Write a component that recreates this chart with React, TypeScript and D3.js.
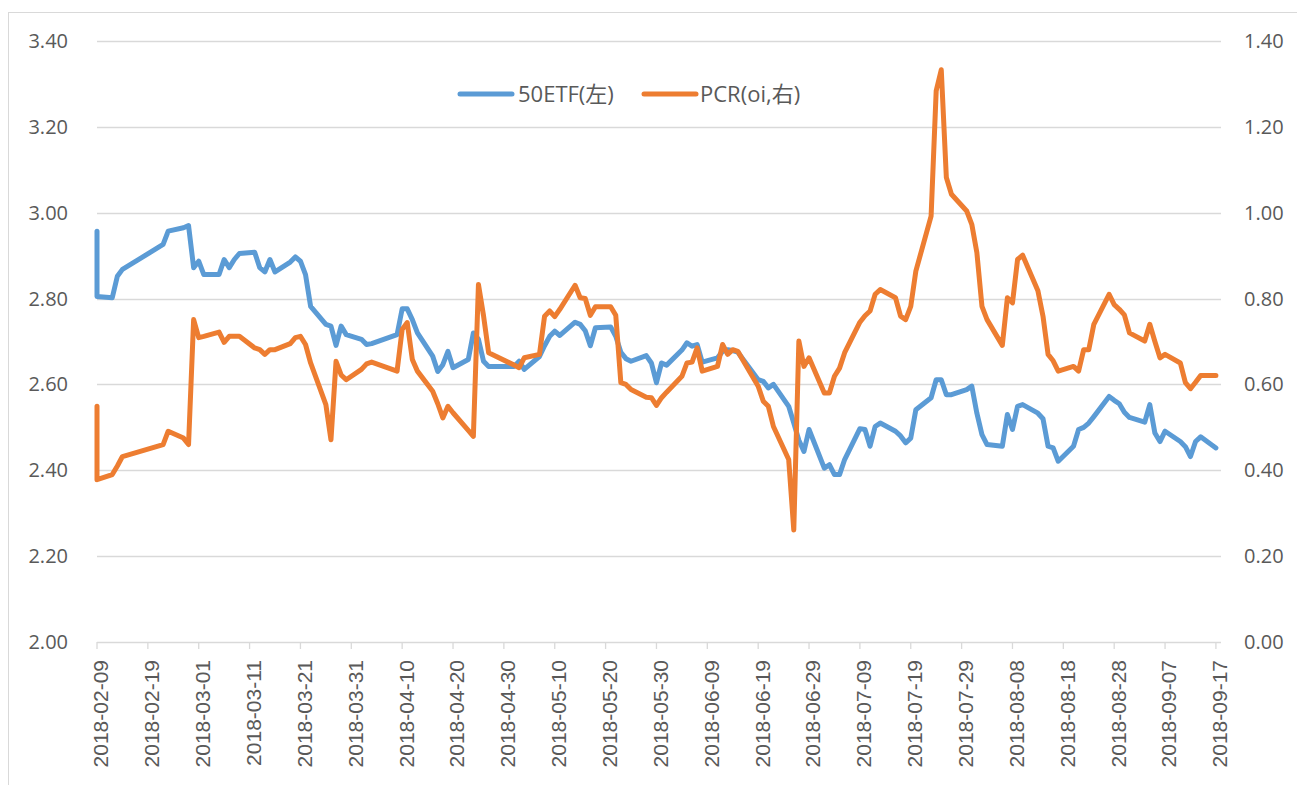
import React from 'react';
import * as d3 from 'd3';

// trading days (first day appears twice in the source series)
const dates = [
  '2018-02-09', '2018-02-09', '2018-02-12', '2018-02-13', '2018-02-14', '2018-02-22', '2018-02-23', '2018-02-26', '2018-02-27', '2018-02-28',
  '2018-03-01', '2018-03-02', '2018-03-05', '2018-03-06', '2018-03-07', '2018-03-08', '2018-03-09', '2018-03-12', '2018-03-13', '2018-03-14',
  '2018-03-15', '2018-03-16', '2018-03-19', '2018-03-20', '2018-03-21', '2018-03-22', '2018-03-23', '2018-03-26', '2018-03-27', '2018-03-28',
  '2018-03-29', '2018-03-30', '2018-04-02', '2018-04-03', '2018-04-04', '2018-04-09', '2018-04-10', '2018-04-11', '2018-04-12', '2018-04-13',
  '2018-04-16', '2018-04-17', '2018-04-18', '2018-04-19', '2018-04-20', '2018-04-23', '2018-04-24', '2018-04-25', '2018-04-26', '2018-04-27',
  '2018-05-02', '2018-05-03', '2018-05-04', '2018-05-07', '2018-05-08', '2018-05-09', '2018-05-10', '2018-05-11', '2018-05-14', '2018-05-15',
  '2018-05-16', '2018-05-17', '2018-05-18', '2018-05-21', '2018-05-22', '2018-05-23', '2018-05-24', '2018-05-25', '2018-05-28', '2018-05-29',
  '2018-05-30', '2018-05-31', '2018-06-01', '2018-06-04', '2018-06-05', '2018-06-06', '2018-06-07', '2018-06-08', '2018-06-11', '2018-06-12',
  '2018-06-13', '2018-06-14', '2018-06-15', '2018-06-19', '2018-06-20', '2018-06-21', '2018-06-22', '2018-06-25', '2018-06-26', '2018-06-27',
  '2018-06-28', '2018-06-29', '2018-07-02', '2018-07-03', '2018-07-04', '2018-07-05', '2018-07-06', '2018-07-09', '2018-07-10', '2018-07-11',
  '2018-07-12', '2018-07-13', '2018-07-16', '2018-07-17', '2018-07-18', '2018-07-19', '2018-07-20', '2018-07-23', '2018-07-24', '2018-07-25',
  '2018-07-26', '2018-07-27', '2018-07-30', '2018-07-31', '2018-08-01', '2018-08-02', '2018-08-03', '2018-08-06', '2018-08-07', '2018-08-08',
  '2018-08-09', '2018-08-10', '2018-08-13', '2018-08-14', '2018-08-15', '2018-08-16', '2018-08-17', '2018-08-20', '2018-08-21', '2018-08-22',
  '2018-08-23', '2018-08-24', '2018-08-27', '2018-08-28', '2018-08-29', '2018-08-30', '2018-08-31', '2018-09-03', '2018-09-04', '2018-09-05',
  '2018-09-06', '2018-09-07', '2018-09-10', '2018-09-11', '2018-09-12', '2018-09-13', '2018-09-14', '2018-09-17',
];

// 50ETF close (left axis)
const etf = [
  2.957, 2.805, 2.802, 2.852, 2.868, 2.926, 2.957, 2.965, 2.970, 2.872,
  2.887, 2.856, 2.856, 2.891, 2.872, 2.891, 2.905, 2.908, 2.872, 2.862,
  2.891, 2.862, 2.885, 2.897, 2.887, 2.856, 2.782, 2.740, 2.736, 2.691,
  2.736, 2.716, 2.705, 2.693, 2.695, 2.716, 2.776, 2.776, 2.751, 2.720,
  2.666, 2.630, 2.646, 2.677, 2.639, 2.658, 2.720, 2.705, 2.654, 2.642,
  2.642, 2.654, 2.635, 2.665, 2.690, 2.712, 2.724, 2.714, 2.745, 2.740,
  2.725, 2.690, 2.732, 2.734, 2.712, 2.675, 2.660, 2.654, 2.667, 2.650,
  2.604, 2.650, 2.645, 2.680, 2.697, 2.689, 2.693, 2.652, 2.662, 2.677,
  2.681, 2.679, 2.675, 2.611, 2.607, 2.592, 2.600, 2.549, 2.510, 2.470,
  2.444, 2.495, 2.405, 2.413, 2.390, 2.390, 2.425, 2.497, 2.495, 2.456,
  2.502, 2.510, 2.491, 2.480, 2.464, 2.475, 2.541, 2.569, 2.611, 2.611,
  2.576, 2.576, 2.588, 2.596, 2.533, 2.483, 2.460, 2.456, 2.530, 2.495,
  2.549, 2.553, 2.533, 2.520, 2.456, 2.452, 2.421, 2.456, 2.495, 2.500,
  2.510, 2.525, 2.572, 2.563, 2.555, 2.535, 2.523, 2.512, 2.553, 2.487,
  2.467, 2.491, 2.467, 2.455, 2.432, 2.467, 2.478, 2.452,
];

// PCR by open interest (right axis)
const pcr = [
  0.549, 0.378, 0.390, 0.410, 0.432, 0.460, 0.491, 0.475, 0.460, 0.751,
  0.709, 0.712, 0.722, 0.698, 0.712, 0.712, 0.712, 0.685, 0.681, 0.670,
  0.681, 0.681, 0.695, 0.709, 0.712, 0.693, 0.650, 0.553, 0.471, 0.654,
  0.622, 0.611, 0.635, 0.648, 0.652, 0.631, 0.728, 0.744, 0.658, 0.631,
  0.584, 0.555, 0.522, 0.549, 0.534, 0.493, 0.479, 0.833, 0.760, 0.674,
  0.645, 0.639, 0.662, 0.670, 0.759, 0.771, 0.758, 0.775, 0.831, 0.802,
  0.800, 0.761, 0.781, 0.781, 0.761, 0.604, 0.600, 0.588, 0.570, 0.569,
  0.551, 0.569, 0.582, 0.619, 0.650, 0.652, 0.685, 0.631, 0.642, 0.693,
  0.670, 0.681, 0.677, 0.596, 0.561, 0.549, 0.502, 0.425, 0.261, 0.701,
  0.642, 0.662, 0.580, 0.580, 0.619, 0.638, 0.674, 0.745, 0.760, 0.771,
  0.810, 0.821, 0.802, 0.759, 0.751, 0.782, 0.864, 0.992, 1.284, 1.333,
  1.082, 1.043, 1.004, 0.973, 0.907, 0.782, 0.751, 0.691, 0.802, 0.790,
  0.891, 0.901, 0.818, 0.759, 0.670, 0.655, 0.631, 0.642, 0.631, 0.681,
  0.681, 0.740, 0.810, 0.786, 0.775, 0.762, 0.720, 0.701, 0.740, 0.700,
  0.662, 0.670, 0.650, 0.604, 0.590, 0.605, 0.621, 0.621,
];

const leftTicks = [2.0, 2.2, 2.4, 2.6, 2.8, 3.0, 3.2, 3.4];
const rightTicks = [0.0, 0.2, 0.4, 0.6, 0.8, 1.0, 1.2, 1.4];
const xTicks = [
  '2018-02-09', '2018-02-19', '2018-03-01', '2018-03-11', '2018-03-21', '2018-03-31', '2018-04-10', '2018-04-20',
  '2018-04-30', '2018-05-10', '2018-05-20', '2018-05-30', '2018-06-09', '2018-06-19', '2018-06-29', '2018-07-09',
  '2018-07-19', '2018-07-29', '2018-08-08', '2018-08-18', '2018-08-28', '2018-09-07', '2018-09-17',
];
const seriesNames = ['50ETF(左)', 'PCR(oi,右)'];

const BLUE = '#5B9BD5';
const ORANGE = '#ED7D31';
const GRID = '#d9d9d9';
const TEXT = '#595959';

const parse = d3.timeParse('%Y-%m-%d');

export default function App() {
  const W = 1297;
  const H = 785;
  const left = 97;
  const right = 1221;
  const top = 41;
  const bottom = 642;

  const x = d3.scaleTime()
    .domain([parse('2018-02-09'), parse('2018-09-18')])
    .range([left, right]);
  const yL = d3.scaleLinear().domain([2.0, 3.4]).range([bottom, top]);
  const yR = d3.scaleLinear().domain([0, 1.4]).range([bottom, top]);

  const rows = dates.map((d, i) => ({ t: parse(d), etf: etf[i], pcr: pcr[i] }));

  const etfLine = d3.line().x(d => x(d.t)).y(d => yL(d.etf));
  const pcrLine = d3.line().x(d => x(d.t)).y(d => yR(d.pcr));

  const labelFont = '"Open Sans", "Noto Sans CJK SC", sans-serif';

  return (
    <div style={{ position: 'absolute', left: 0, top: 0 }}>
      <svg width={W} height={H} style={{ display: 'block', background: '#fff' }}>
        <rect x={8.5} y={12.5} width={1400} height={900} fill="#fff" stroke={GRID} strokeWidth={1} />

        {/* gridlines */}
        {leftTicks.slice(1).map(v => (
          <line key={v} x1={left} x2={right} y1={Math.round(yL(v)) + 0.5} y2={Math.round(yL(v)) + 0.5}
            stroke={GRID} strokeWidth={1.3} />
        ))}

        {/* x axis */}
        <line x1={left} x2={right} y1={bottom + 0.5} y2={bottom + 0.5} stroke={GRID} strokeWidth={1.3} />
        {xTicks.map(s => {
          const tx = x(parse(s));
          return (
            <g key={s}>
              <line x1={tx} x2={tx} y1={bottom} y2={bottom + 7} stroke={GRID} strokeWidth={1.3} />
              <text transform={`translate(${tx + 4},${660}) rotate(-90)`} textAnchor="end" dy="0.35em"
                fontFamily='"Liberation Sans", Arial, sans-serif' fontSize={21} fill={TEXT}>{s}</text>
            </g>
          );
        })}

        {/* y tick labels */}
        {leftTicks.map(v => (
          <text key={'l' + v} x={68} y={yL(v)} dy="0.35em" textAnchor="end"
            fontFamily={labelFont} fontSize={20} fill={TEXT}>{v.toFixed(2)}</text>
        ))}
        {rightTicks.map(v => (
          <text key={'r' + v} x={1244} y={yR(v)} dy="0.35em" textAnchor="start"
            fontFamily={labelFont} fontSize={20} fill={TEXT}>{v.toFixed(2)}</text>
        ))}

        {/* series */}
        <path d={etfLine(rows)} fill="none" stroke={BLUE} strokeWidth={5} strokeLinejoin="round" strokeLinecap="round" />
        <path d={pcrLine(rows)} fill="none" stroke={ORANGE} strokeWidth={5} strokeLinejoin="round" strokeLinecap="round" />

        {/* legend */}
        <g fontFamily={labelFont} fontSize={22} fill={TEXT}>
          <line x1={460} x2={512} y1={94} y2={94} stroke={BLUE} strokeWidth={5} strokeLinecap="round" />
          <text x={518} y={94} dy="0.35em">{seriesNames[0]}</text>
          <line x1={644} x2={696} y1={94} y2={94} stroke={ORANGE} strokeWidth={5} strokeLinecap="round" />
          <text x={700} y={94} dy="0.35em">{seriesNames[1]}</text>
        </g>
      </svg>
    </div>
  );
}
